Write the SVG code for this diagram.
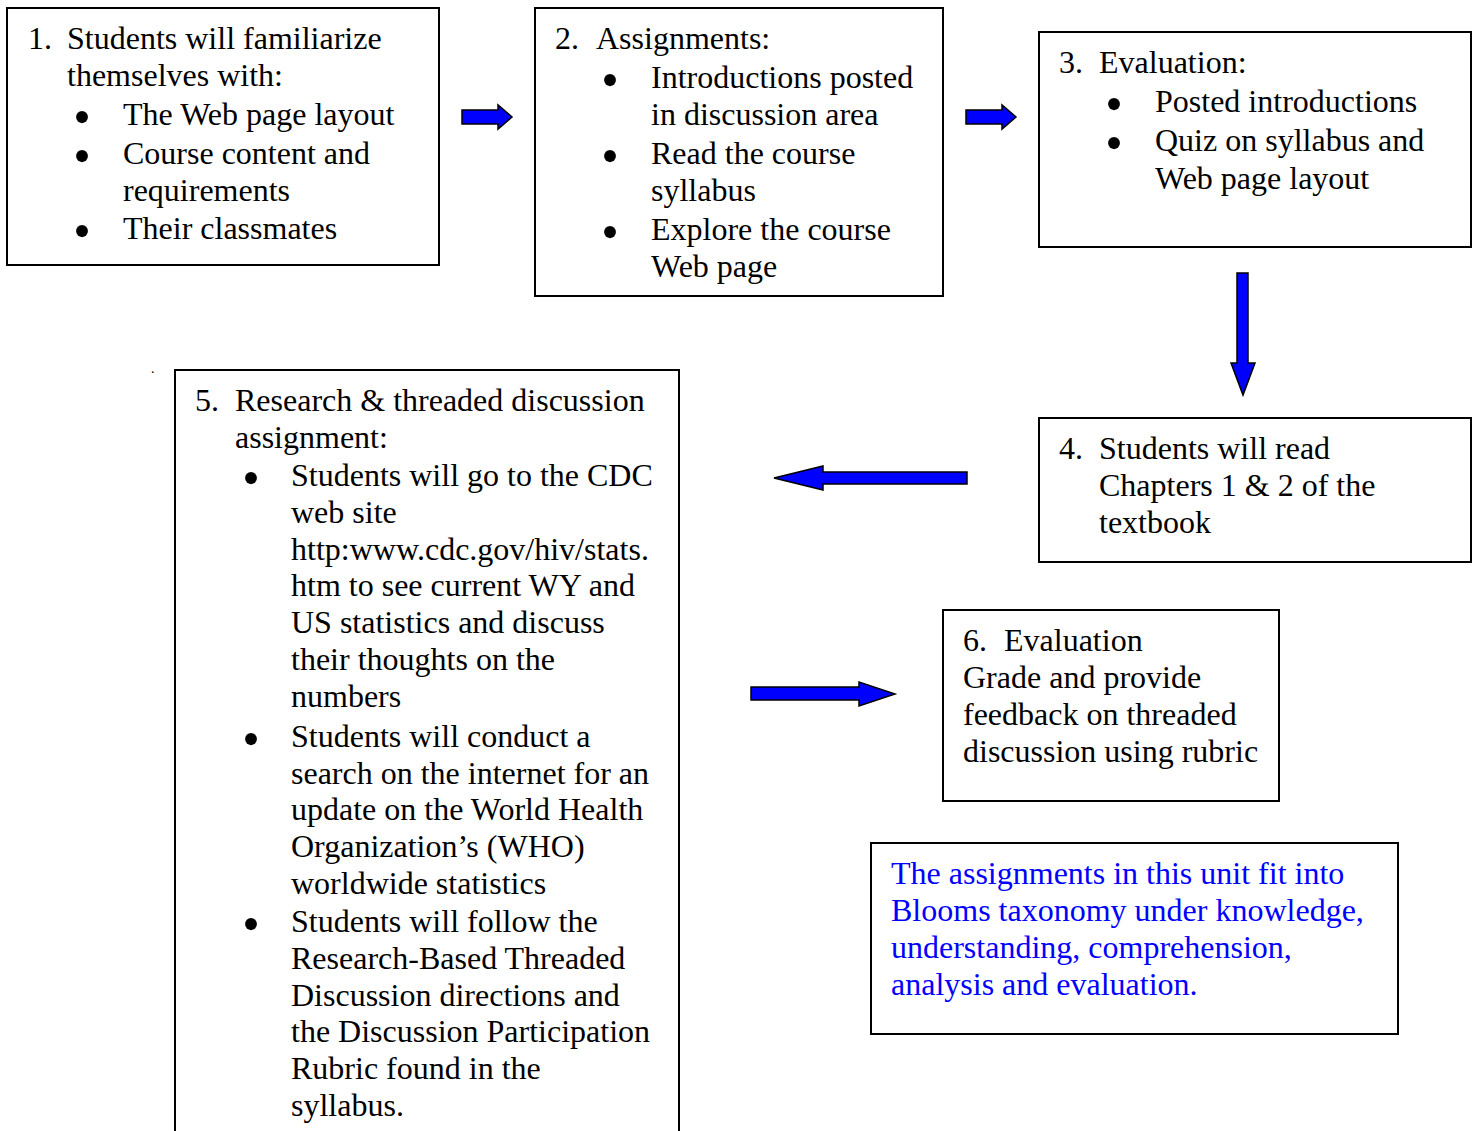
<svg xmlns="http://www.w3.org/2000/svg" width="1476" height="1131" viewBox="0 0 1476 1131">
<style>
.box{fill:#fff;stroke:#000;stroke-width:2}
text{font-family:"Liberation Serif","Times New Roman",serif;font-size:32px;fill:#000}
.blue{fill:#0000ff}
.b{text-anchor:middle;font-size:50px}
.arr{fill:#0000ff;stroke:#000;stroke-width:1.5;stroke-linejoin:miter}
</style>
<rect width="1476" height="1131" fill="#fff"/>
<g id="node1">
<rect class="box" x="7" y="8" width="432" height="257"/>
<text x="28" y="49">1.</text><text x="67" y="49">Students will familiarize</text>
<text x="67" y="86">themselves with:</text>
<text class="b" x="82" y="134">•</text><text x="123" y="125">The Web page layout</text>
<text class="b" x="82" y="173">•</text><text x="123" y="164">Course content and</text>
<text x="123" y="201">requirements</text>
<text class="b" x="82" y="248">•</text><text x="123" y="239">Their classmates</text>
</g>
<g id="node2">
<rect class="box" x="535" y="8" width="408" height="288"/>
<text x="555" y="49">2.</text><text x="596" y="49">Assignments:</text>
<text class="b" x="610" y="97">•</text><text x="651" y="88">Introductions posted</text>
<text x="651" y="125">in discussion area</text>
<text class="b" x="610" y="173">•</text><text x="651" y="164">Read the course</text>
<text x="651" y="201">syllabus</text>
<text class="b" x="610" y="249">•</text><text x="651" y="240">Explore the course</text>
<text x="651" y="277">Web page</text>
</g>
<g id="node3">
<rect class="box" x="1039" y="32" width="432" height="215"/>
<text x="1059" y="73">3.</text><text x="1099" y="73">Evaluation:</text>
<text class="b" x="1114" y="121">•</text><text x="1155" y="112">Posted introductions</text>
<text class="b" x="1114" y="160">•</text><text x="1155" y="151">Quiz on syllabus and</text>
<text x="1155" y="189">Web page layout</text>
</g>
<g id="node4">
<rect class="box" x="1039" y="418" width="432" height="144"/>
<text x="1059" y="459">4.</text><text x="1099" y="459">Students will read</text>
<text x="1099" y="496">Chapters 1 &amp; 2 of the</text>
<text x="1099" y="533">textbook</text>
</g>
<g id="node5">
<text x="151" y="373" style="font-size:14px">.</text>
<rect class="box" x="175" y="370" width="504" height="780"/>
<text x="195" y="411">5.</text><text x="235" y="411">Research &amp; threaded discussion</text>
<text x="235" y="448">assignment:</text>
<text class="b" x="251" y="495">•</text><text x="291" y="486">Students will go to the CDC</text>
<text x="291" y="523">web site</text>
<text x="291" y="560">http:www.cdc.gov/hiv/stats.</text>
<text x="291" y="596">htm to see current WY and</text>
<text x="291" y="633">US statistics and discuss</text>
<text x="291" y="670">their thoughts on the</text>
<text x="291" y="707">numbers</text>
<text class="b" x="251" y="756">•</text><text x="291" y="747">Students will conduct a</text>
<text x="291" y="784">search on the internet for an</text>
<text x="291" y="820">update on the World Health</text>
<text x="291" y="857">Organization’s (WHO)</text>
<text x="291" y="894">worldwide statistics</text>
<text class="b" x="251" y="941">•</text><text x="291" y="932">Students will follow the</text>
<text x="291" y="969">Research-Based Threaded</text>
<text x="291" y="1006">Discussion directions and</text>
<text x="291" y="1042">the Discussion Participation</text>
<text x="291" y="1079">Rubric found in the</text>
<text x="291" y="1116">syllabus.</text>
</g>
<g id="node6">
<rect class="box" x="943" y="610" width="336" height="191"/>
<text x="963" y="651">6.</text><text x="1004" y="651">Evaluation</text>
<text x="963" y="688">Grade and provide</text>
<text x="963" y="725">feedback on threaded</text>
<text x="963" y="762">discussion using rubric</text>
</g>
<g id="note">
<rect class="box" x="871" y="843" width="527" height="191"/>
<text class="blue" x="891" y="884">The assignments in this unit fit into</text>
<text class="blue" x="891" y="921">Blooms taxonomy under knowledge,</text>
<text class="blue" x="891" y="958">understanding, comprehension,</text>
<text class="blue" x="891" y="995">analysis and evaluation.</text>
</g>
<g id="connectors">
<polygon class="arr" points="462,110 498,110 498,105 512,117 498,129 498,124 462,124"/>
<polygon class="arr" points="966,110 1002,110 1002,105 1016,117 1002,129 1002,124 966,124"/>
<polygon class="arr" points="1237,273 1248,273 1248,363 1255,363 1243,395 1231,363 1237,363"/>
<polygon class="arr" points="967,472 823,472 823,466 774,478 823,490 823,484 967,484"/>
<polygon class="arr" points="751,687 859,687 859,682 895,694 859,706 859,700 751,700"/>
</g>
</svg>
